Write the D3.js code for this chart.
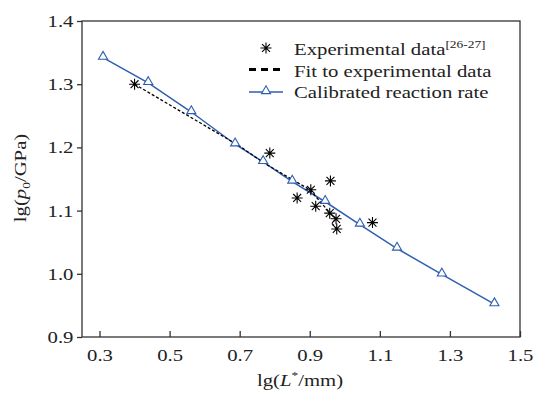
<!DOCTYPE html>
<html>
<head>
<meta charset="utf-8">
<script src="https://cdn.jsdelivr.net/npm/d3@7"></script>
<style>
  body { margin: 0; background: #fff; }
  svg text { font-family: "Liberation Serif", "DejaVu Serif", serif !important; fill: #222; }
</style>
</head>
<body>
<div id="chart"></div>
<script>
// experimental points (lg L*, lg p0)
var expX = [0.40, 0.786, 0.864, 0.903, 0.917, 0.957, 0.959, 0.975, 0.977, 1.079];
var expY = [1.300, 1.191, 1.120, 1.133, 1.107, 1.096, 1.147, 1.087, 1.071, 1.081];

// fit to experimental data (dashed)
var fitX = [0.40, 0.70, 0.77, 0.90, 0.957, 0.975, 0.963, 0.977];
var fitY = [1.300, 1.202, 1.175, 1.133, 1.097, 1.087, 1.080, 1.071];

// calibrated reaction rate
var calX = [0.31, 0.439, 0.562, 0.687, 0.767, 0.850, 0.944, 1.043, 1.149, 1.277, 1.427];
var calY = [1.342, 1.302, 1.256, 1.205, 1.177, 1.146, 1.114, 1.078, 1.040, 0.999, 0.952];

var xTicks = [0.3, 0.5, 0.7, 0.9, 1.1, 1.3, 1.5];
var yTicks = [0.9, 1.0, 1.1, 1.2, 1.3, 1.4];

var W = 534, H = 396;
var m = {left: 82, top: 21, right: 14, bottom: 59};
var sx = 1.22; // the original type is set wide

var svg = d3.select('#chart').append('svg')
    .attr('width', W).attr('height', H);

var x = d3.scaleLinear().domain([0.25, 1.5]).range([m.left, W - m.right]);
var y = d3.scaleLinear().domain([0.9, 1.4]).range([H - m.bottom, m.top]);

var blue = '#2f5fb0';

// frame
svg.append('rect')
    .attr('x', m.left).attr('y', m.top)
    .attr('width', W - m.left - m.right).attr('height', H - m.top - m.bottom)
    .attr('fill', 'none').attr('stroke', '#333').attr('stroke-width', 1.3);

// x axis, ticks pointing inward
var xa = svg.append('g')
    .attr('transform', 'translate(0,' + (H - m.bottom) + ')')
    .call(d3.axisBottom(x).tickValues(xTicks).tickSizeInner(-6).tickSizeOuter(0).tickPadding(12)
        .tickFormat(d3.format('.1f')));
xa.select('.domain').remove();
xa.selectAll('line').attr('stroke', '#333').attr('stroke-width', 1.3);
xa.selectAll('text').attr('font-size', 17).attr('transform', 'scale(' + sx + ',1)');

// y axis, ticks outward
var ya = svg.append('g')
    .attr('transform', 'translate(' + m.left + ',0)')
    .call(d3.axisLeft(y).tickValues(yTicks).tickSizeInner(5).tickSizeOuter(0).tickPadding(2)
        .tickFormat(d3.format('.1f')));
ya.select('.domain').remove();
ya.selectAll('line').attr('stroke', '#333').attr('stroke-width', 1.3);
ya.selectAll('text').attr('font-size', 17).attr('transform', 'scale(' + sx + ',1)');

// axis titles
var xt = svg.append('text')
    .attr('transform', 'translate(300,386) scale(' + sx + ',1)')
    .attr('text-anchor', 'middle').attr('font-size', 17);
xt.append('tspan').text('lg(');
xt.append('tspan').attr('font-style', 'italic').text('L');
xt.append('tspan').attr('font-size', 11).attr('dy', -7).text('*');
xt.append('tspan').attr('dy', 7).text('/mm)');

var yt = svg.append('text')
    .attr('transform', 'translate(26,178) rotate(-90) scale(' + sx + ',1)')
    .attr('text-anchor', 'middle').attr('font-size', 17);
yt.append('tspan').text('lg(');
yt.append('tspan').attr('font-style', 'italic').text('p');
yt.append('tspan').attr('font-size', 11).attr('dy', 4).text('0');
yt.append('tspan').attr('dy', -4).text('/GPa)');

// calibrated line
var calData = calX.map(function(d, i){ return {x: d, y: calY[i]}; });
var line = d3.line().x(function(d){ return x(d.x); }).y(function(d){ return y(d.y); });
svg.append('path').datum(calData)
    .attr('d', line).attr('fill', 'none').attr('stroke', blue).attr('stroke-width', 1.5);

// fit line (dashed)
var fitData = fitX.map(function(d, i){ return {x: d, y: fitY[i]}; });
svg.append('path').datum(fitData)
    .attr('d', line).attr('fill', 'none').attr('stroke', '#000')
    .attr('stroke-width', 1.3).attr('stroke-dasharray', '3,2');

var tri = d3.symbol().type(d3.symbolTriangle).size(36);
svg.selectAll('.tri').data(calData).enter().append('path')
    .attr('class', 'tri')
    .attr('transform', function(d){ return 'translate(' + x(d.x) + ',' + (y(d.y) - 1) + ')'; })
    .attr('d', tri).attr('fill', '#fff').attr('stroke', blue).attr('stroke-width', 1.1);

// asterisk markers
function star(g, r){
    var a = r * 0.72;
    g.append('path')
        .attr('d', 'M' + (-r) + ',0H' + r + 'M0,' + (-r) + 'V' + r +
            'M' + (-a) + ',' + (-a) + 'L' + a + ',' + a + 'M' + (-a) + ',' + a + 'L' + a + ',' + (-a))
        .attr('stroke', '#000').attr('stroke-width', 1.1).attr('fill', 'none');
}
var expData = expX.map(function(d, i){ return {x: d, y: expY[i]}; });
svg.selectAll('.star').data(expData).enter().append('g')
    .attr('class', 'star')
    .attr('transform', function(d){ return 'translate(' + x(d.x) + ',' + y(d.y) + ')'; })
    .each(function(){ star(d3.select(this), 5.5); });

// legend
var lg = svg.append('g');
star(lg.append('g').attr('transform', 'translate(266,48)'), 5.5);
lg.append('line').attr('x1', 249).attr('x2', 283).attr('y1', 69.5).attr('y2', 69.5)
    .attr('stroke', '#000').attr('stroke-width', 3).attr('stroke-dasharray', '7,5');
lg.append('line').attr('x1', 249).attr('x2', 283).attr('y1', 92).attr('y2', 92)
    .attr('stroke', blue).attr('stroke-width', 1.5);
lg.append('path').attr('transform', 'translate(266,91)').attr('d', tri)
    .attr('fill', '#fff').attr('stroke', blue).attr('stroke-width', 1.1);

var lt1 = lg.append('text').attr('transform', 'translate(294,55) scale(' + sx + ',1)').attr('font-size', 17);
lt1.append('tspan').text('Experimental data');
lt1.append('tspan').attr('font-size', 11).attr('dy', -7).text('[26-27]');
lg.append('text').attr('transform', 'translate(294,77) scale(' + sx + ',1)').attr('font-size', 17)
    .text('Fit to experimental data');
lg.append('text').attr('transform', 'translate(294,98) scale(' + sx + ',1)').attr('font-size', 17)
    .text('Calibrated reaction rate');
</script>
</body>
</html>
